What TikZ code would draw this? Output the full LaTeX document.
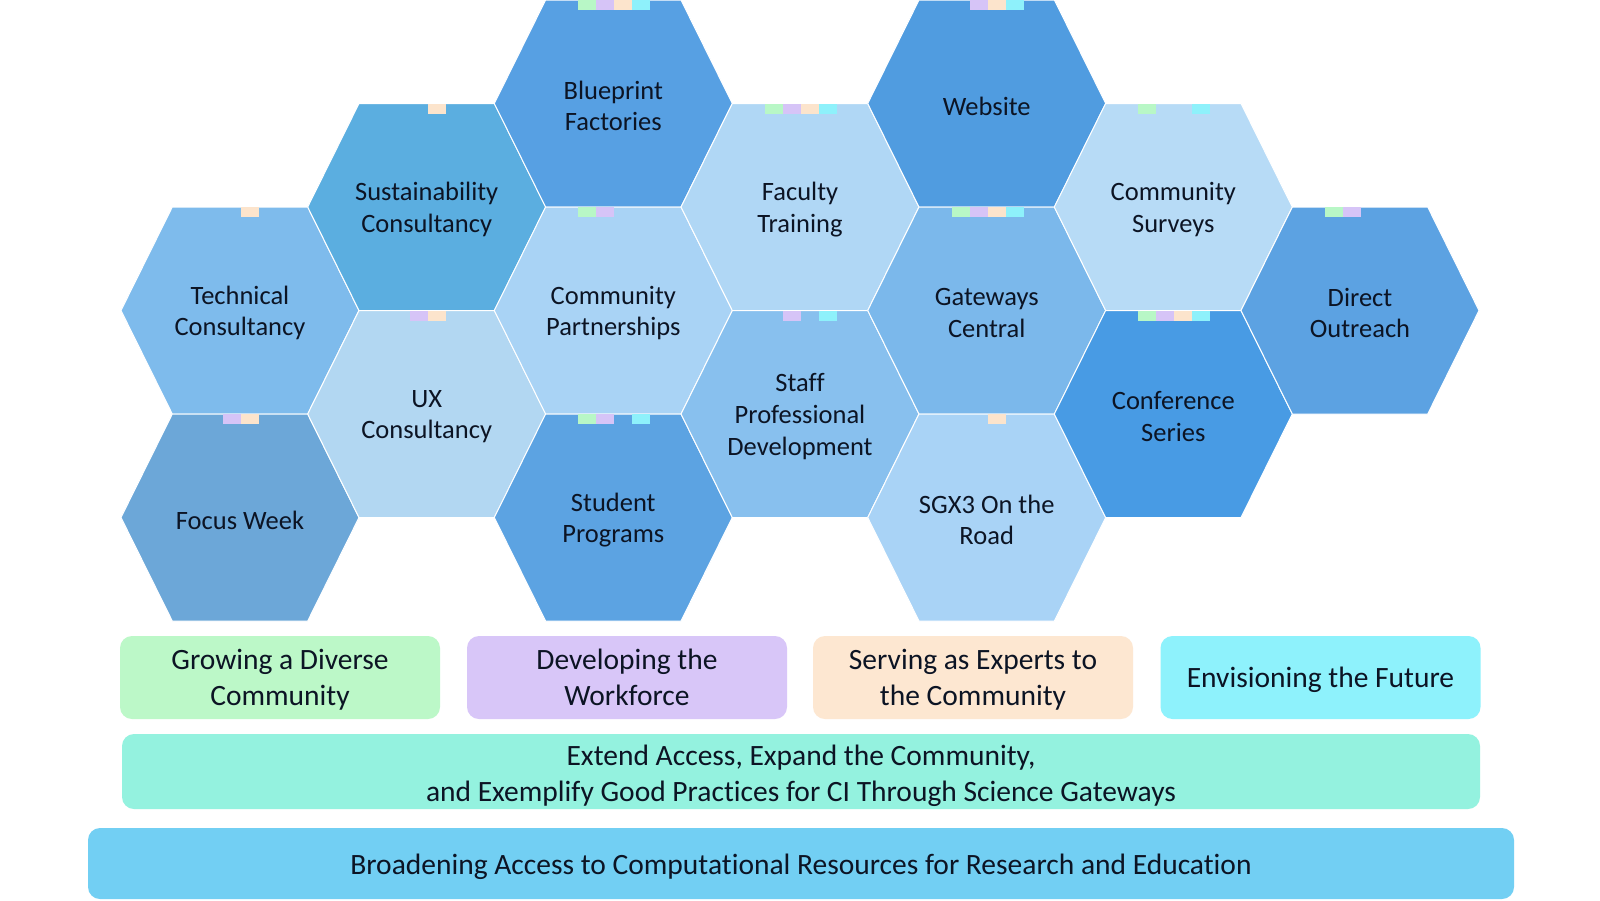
\documentclass[tikz,border=0pt]{standalone}
\usepackage{fontspec}
\setmainfont{Carlito}[Ligatures=NoCommon]
\definecolor{txt}{HTML}{0C1424}
\definecolor{hTC}{HTML}{7EBBEC}
\definecolor{hSUS}{HTML}{5BAEE0}
\definecolor{hBP}{HTML}{57A0E3}
\definecolor{hFT}{HTML}{B0D7F5}
\definecolor{hWEB}{HTML}{509CE0}
\definecolor{hCS}{HTML}{B7DBF6}
\definecolor{hDO}{HTML}{5CA2E2}
\definecolor{hUX}{HTML}{B2D7F2}
\definecolor{hCP}{HTML}{A9D3F5}
\definecolor{hGC}{HTML}{7BB8EB}
\definecolor{hSPD}{HTML}{88C0EE}
\definecolor{hCONF}{HTML}{489BE4}
\definecolor{hFW}{HTML}{6CA7D8}
\definecolor{hSP}{HTML}{5CA3E2}
\definecolor{hSGX}{HTML}{A9D3F6}
\definecolor{tag1}{HTML}{B8F7C6}
\definecolor{tag2}{HTML}{D6C4F7}
\definecolor{tag3}{HTML}{FCE4CC}
\definecolor{tag4}{HTML}{8EF1FB}
\definecolor{bGreen}{HTML}{BCF8C8}
\definecolor{bPurple}{HTML}{D8C6F8}
\definecolor{bPeach}{HTML}{FDE7D1}
\definecolor{bCyan}{HTML}{8EF2FC}
\definecolor{bMint}{HTML}{94F2DF}
\definecolor{bBlue}{HTML}{72CFF3}
\tikzset{
  hexfill/.style={draw=white, line width=1pt, line join=round},
  hextext/.style={align=center, text=txt, inner sep=0pt, yshift=-2.5pt,
    font=\fontsize{26.5}{31.6}\selectfont},
  goalbox/.style={rounded corners=12pt, align=center, text=txt, inner sep=0pt,
    minimum width=320pt, minimum height=83pt,
    font=\fontsize{29.5}{35.5}\selectfont},
  bandbox/.style={rounded corners=12pt, align=center, text=txt, inner sep=0pt,
    font=\fontsize{29.5}{35.5}\selectfont}
}
% #1 cx, #2 cy, #3 colour
\newcommand\hexcell[3]{%
  \fill[#3, hexfill] ({#1-119},{#2}) -- ({#1-67.7},{#2-103.5}) -- ({#1+67.7},{#2-103.5})
    -- ({#1+119},{#2}) -- ({#1+67.7},{#2+103.5}) -- ({#1-67.7},{#2+103.5}) -- cycle;}
% #1 cx, #2 cy, #3 slot
\newcommand\hextag[3]{%
  \fill[tag#3] ({#1-35+18*(#3-1)},{#2-103.5}) rectangle ++(18,10);}
\begin{document}
\begin{tikzpicture}[x=1pt,y=-1pt]
\useasboundingbox (0,0) rectangle (1600,900);
\fill[white] (0,0) rectangle (1600,900);
% hexagons
\hexcell{240}{310.5}{hTC}
\hexcell{240}{517.5}{hFW}
\hexcell{426.7}{207}{hSUS}
\hexcell{426.7}{414}{hUX}
\hexcell{613.3}{103.5}{hBP}
\hexcell{613.3}{310.5}{hCP}
\hexcell{613.3}{517.5}{hSP}
\hexcell{800}{207}{hFT}
\hexcell{800}{414}{hSPD}
\hexcell{986.7}{103.5}{hWEB}
\hexcell{986.7}{310.5}{hGC}
\hexcell{986.7}{517.5}{hSGX}
\hexcell{1173.3}{207}{hCS}
\hexcell{1173.3}{414}{hCONF}
\hexcell{1360}{310.5}{hDO}
% tags
\hextag{240}{310.5}{3}
\hextag{240}{517.5}{2}\hextag{240}{517.5}{3}
\hextag{426.7}{207}{3}
\hextag{426.7}{414}{2}\hextag{426.7}{414}{3}
\hextag{613.3}{103.5}{1}\hextag{613.3}{103.5}{2}\hextag{613.3}{103.5}{3}\hextag{613.3}{103.5}{4}
\hextag{613.3}{310.5}{1}\hextag{613.3}{310.5}{2}
\hextag{613.3}{517.5}{1}\hextag{613.3}{517.5}{2}\hextag{613.3}{517.5}{4}
\hextag{800}{207}{1}\hextag{800}{207}{2}\hextag{800}{207}{3}\hextag{800}{207}{4}
\hextag{800}{414}{2}\hextag{800}{414}{4}
\hextag{986.7}{103.5}{2}\hextag{986.7}{103.5}{3}\hextag{986.7}{103.5}{4}
\hextag{986.7}{310.5}{1}\hextag{986.7}{310.5}{2}\hextag{986.7}{310.5}{3}\hextag{986.7}{310.5}{4}
\hextag{986.7}{517.5}{3}
\hextag{1173.3}{207}{1}\hextag{1173.3}{207}{4}
\hextag{1173.3}{414}{1}\hextag{1173.3}{414}{2}\hextag{1173.3}{414}{3}\hextag{1173.3}{414}{4}
\hextag{1360}{310.5}{1}\hextag{1360}{310.5}{2}
% hexagon labels
\node[hextext] (tc) at (240,310.5) {Technical\\Consultancy};
\node[hextext] (fw) at (240,517.5) {Focus Week};
\node[hextext] (sus) at (426.7,207) {Sustainability\\Consultancy};
\node[hextext] (ux) at (426.7,414) {UX\\Consultancy};
\node[hextext] (bp) at (613.3,103.5) {Blueprint\\Factories};
\node[hextext] (cp) at (613.3,310.5) {Community\\Partnerships};
\node[hextext] (sp) at (613.3,517.5) {Student\\Programs};
\node[hextext] (ft) at (800,207) {Faculty\\Training};
\node[hextext] (spd) at (800,414) {Staff\\Professional\\Development};
\node[hextext] (web) at (986.7,103.5) {Website};
\node[hextext] (gc) at (986.7,310.5) {Gateways\\Central};
\node[hextext] (sgx) at (986.7,517.5) {SGX3 On the\\Road};
\node[hextext] (cs) at (1173.3,207) {Community\\Surveys};
\node[hextext] (conf) at (1173.3,414) {Conference\\Series};
\node[hextext] (do) at (1360,310.5) {Direct\\Outreach};
% goal boxes
\node[goalbox, fill=bGreen] (grow) at (280,677.5) {};
\node[goalbox, fill=bPurple] (work) at (627,677.5) {};
\node[goalbox, fill=bPeach] (expert) at (973,677.5) {};
\node[goalbox, fill=bCyan] (future) at (1320.5,677.5) {};
\node[goalbox, yshift=-3pt] at (grow.center) {\strut Growing a Diverse\\Community\strut};
\node[goalbox, yshift=-3pt] at (work.center) {\strut Developing the\\Workforce\strut};
\node[goalbox, yshift=-3pt] at (expert.center) {\strut Serving as Experts to\\the Community\strut};
\node[goalbox, yshift=-3pt] at (future.center) {\strut Envisioning the Future};
% bands
\node[bandbox, fill=bMint, minimum width=1358pt, minimum height=75pt] (extend) at (801,771.5) {};
\node[bandbox, yshift=-5pt] at (extend.center)
  {\strut Extend Access, Expand the Community,\\and Exemplify Good Practices for CI Through Science Gateways\strut};
\node[bandbox, fill=bBlue, minimum width=1426pt, minimum height=71pt] (broad) at (801,863.5) {};
\node[bandbox, yshift=-4pt] at (broad.center)
  {\strut Broadening Access to Computational Resources for Research and Education};
\end{tikzpicture}
\end{document}
